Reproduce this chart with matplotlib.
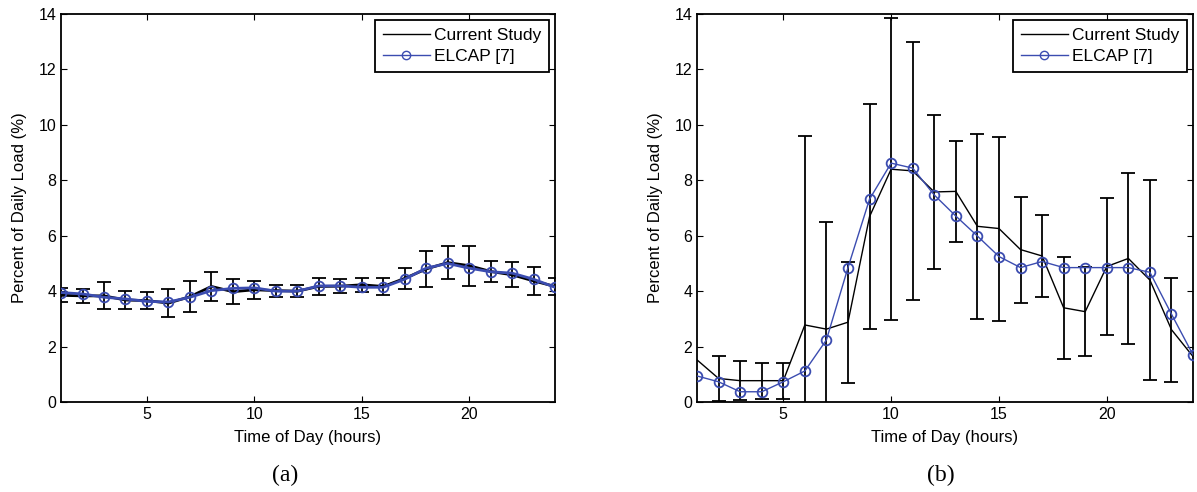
import numpy as np
import matplotlib
matplotlib.use("Agg")
import matplotlib.pyplot as plt
from matplotlib.lines import Line2D

plt.rcParams['font.family'] = ['Liberation Sans', 'DejaVu Sans']

hours = np.arange(1, 25)

# (a) nearly flat profile
cur_a = [3.85, 3.83, 3.83, 3.68, 3.66, 3.57, 3.80, 4.17, 3.98, 4.05, 4.02, 4.00,
         4.17, 4.18, 4.23, 4.17, 4.46, 4.80, 5.03, 4.92, 4.71, 4.59, 4.37, 4.17]
err_a = [0.25, 0.25, 0.49, 0.34, 0.31, 0.51, 0.56, 0.53, 0.45, 0.32, 0.22, 0.22,
         0.31, 0.26, 0.26, 0.31, 0.37, 0.66, 0.60, 0.72, 0.39, 0.45, 0.51, 0.31]
elcap_a = [3.95, 3.90, 3.78, 3.72, 3.63, 3.61, 3.78, 4.02, 4.10, 4.12, 4.00, 4.00,
           4.19, 4.19, 4.14, 4.14, 4.43, 4.83, 5.00, 4.83, 4.70, 4.65, 4.43, 4.14]

# (b) peaky profile
cur_b = [1.52, 0.85, 0.77, 0.77, 0.77, 2.78, 2.63, 2.88, 6.69, 8.40, 8.34, 7.58,
         7.60, 6.34, 6.26, 5.50, 5.27, 3.40, 3.26, 4.89, 5.18, 4.40, 2.61, 1.64]
err_b = [np.nan, 0.80, 0.71, 0.65, 0.65, 6.83, 3.88, 2.19, 4.07, 5.44, 4.66, 2.79,
         1.83, 3.34, 3.32, 1.91, 1.47, 1.85, 1.60, 2.47, 3.10, 3.61, 1.88, np.nan]
elcap_b = [0.94, 0.73, 0.37, 0.37, 0.73, 1.12, 2.24, 4.85, 7.32, 8.62, 8.44, 7.47,
           6.71, 5.99, 5.25, 4.85, 5.07, 4.85, 4.85, 4.85, 4.85, 4.68, 3.17, 1.70]

blue = '#3b4cb0'

fig = plt.figure(figsize=(11.97, 4.92), dpi=100)
ax1 = fig.add_axes([0.051, 0.1829, 0.4127, 0.7886])
ax2 = fig.add_axes([0.5823, 0.1829, 0.4144, 0.7886])

def panel(ax, cur, err, elcap, lw):
    ax.errorbar(hours, cur, yerr=err, color='black', lw=lw, ecolor='black',
                elinewidth=1.3, capsize=5, capthick=1.3, zorder=2)
    ax.plot(hours, elcap, color=blue, lw=lw, marker='o', markersize=7,
            markerfacecolor='none', markeredgecolor=blue, markeredgewidth=1.3,
            zorder=3)
    ax.set_xlim(1, 24)
    ax.set_ylim(0, 14)
    ax.set_xticks([5, 10, 15, 20])
    ax.set_yticks(range(0, 15, 2))
    ax.tick_params(direction='in', top=True, right=True, labelsize=11.5, length=4)
    for s in ax.spines.values():
        s.set_linewidth(1.3)
    ax.set_xlabel('Time of Day (hours)', fontsize=12, labelpad=6)
    ax.set_ylabel('Percent of Daily Load (%)', fontsize=12, labelpad=8)
    handles = [Line2D([], [], color='black', lw=1),
               Line2D([], [], color=blue, lw=1, marker='o', markersize=6,
                      markerfacecolor='none', markeredgecolor=blue)]
    leg = ax.legend(handles, ['Current Study', 'ELCAP [7]'], loc='upper right',
                    fontsize=12.5, fancybox=False, framealpha=1, edgecolor='black',
                    borderaxespad=0.35, handlelength=2.7, handletextpad=0.25,
                    borderpad=0.45, labelspacing=0.35)
    leg.get_frame().set_linewidth(1.3)

panel(ax1, cur_a, err_a, elcap_a, 2.0)
panel(ax2, cur_b, err_b, elcap_b, 1.0)

fig.text(0.238, 0.034, '(a)', ha='center', va='center', fontsize=17,
         family='Liberation Serif')
fig.text(0.786, 0.034, '(b)', ha='center', va='center', fontsize=17,
         family='Liberation Serif')

fig.savefig('out.png', dpi=100)
